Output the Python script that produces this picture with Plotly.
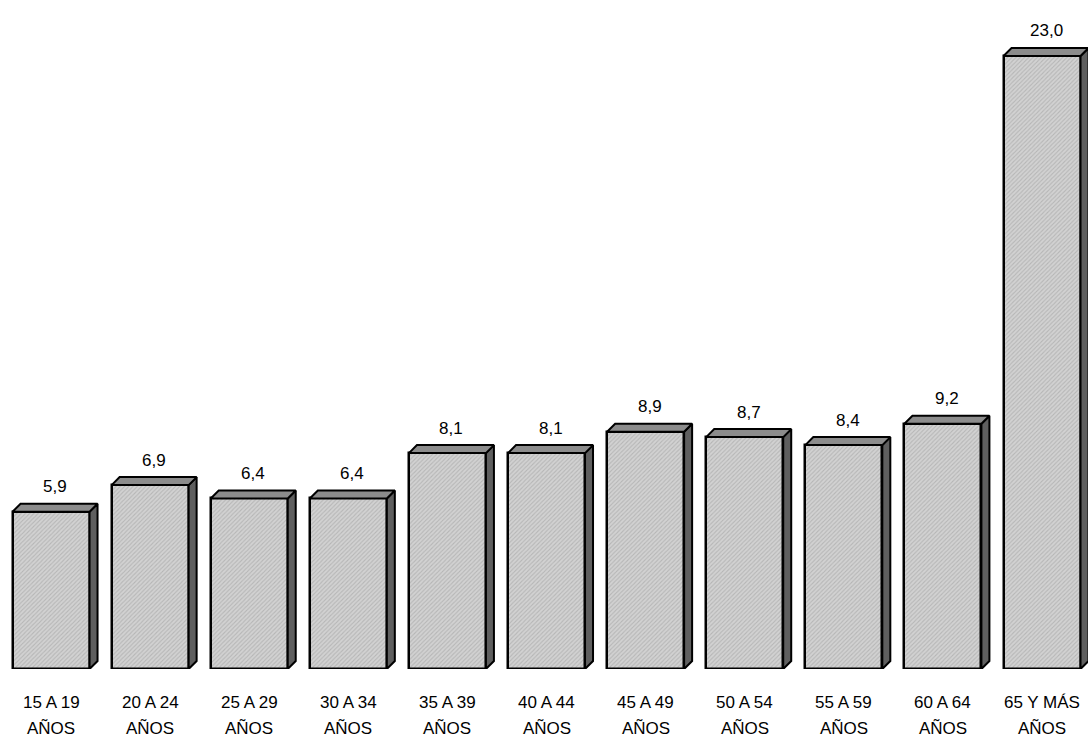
import plotly.graph_objects as go

# Age groups and their values
age_groups = ["15 A 19", "20 A 24", "25 A 29", "30 A 34", "35 A 39", "40 A 44",
              "45 A 49", "50 A 54", "55 A 59", "60 A 64", "65 Y MÁS"]
second_line = "AÑOS"
values = [5.9, 6.9, 6.4, 6.4, 8.1, 8.1, 8.9, 8.7, 8.4, 9.2, 23.0]

W, H = 1088, 740
X_RANGE = [-0.515, 10.464]
Y_RANGE = [0, 25.10]
MARGIN_B = 71

px_per_x = W / (X_RANGE[1] - X_RANGE[0])
px_per_y = (H - MARGIN_B) / (Y_RANGE[1] - Y_RANGE[0])

bar_w = 0.777
depth_px = 8
dx = depth_px / px_per_x
dy = depth_px / px_per_y

FONT = "Liberation Sans Narrow, Arial Narrow, Liberation Sans, Arial, sans-serif"

xs = list(range(len(age_groups)))
fig = go.Figure()

# Right side and top faces giving the bars their depth
for i, v in zip(xs, values):
    x0, x1 = i - bar_w / 2, i + bar_w / 2
    fig.add_trace(go.Scatter(
        x=[x1, x1 + dx, x1 + dx, x1, x1],
        y=[0, dy, v + dy, v, 0],
        mode="lines", fill="toself", fillcolor="#5f5f5f",
        line=dict(color="black", width=2), hoverinfo="skip", showlegend=False))
    fig.add_trace(go.Scatter(
        x=[x0, x0 + dx, x1 + dx, x1, x0],
        y=[v, v + dy, v + dy, v, v],
        mode="lines", fill="toself", fillcolor="#8c8c8c",
        line=dict(color="black", width=2), hoverinfo="skip", showlegend=False))

# Front faces
fig.add_trace(go.Bar(
    x=xs, y=values, width=bar_w,
    marker=dict(color="#cfcfcf",
                pattern=dict(shape="/", fgcolor="#9a9a9a", bgcolor="#d2d2d2",
                             size=3, solidity=0.35),
                line=dict(color="black", width=2.5)),
    hoverinfo="skip", showlegend=False))

annotations = []
for i, v in zip(xs, values):
    annotations.append(dict(
        x=i + dx / 2, y=v, yshift=25, text=f"{v:.1f}".replace(".", ","),
        showarrow=False, xanchor="center", yanchor="middle",
        font=dict(family=FONT, size=17, color="black")))
    annotations.append(dict(
        x=i, y=0, yshift=-33, text=age_groups[i], showarrow=False,
        xanchor="center", yanchor="middle",
        font=dict(family=FONT, size=17, color="black")))
    annotations.append(dict(
        x=i, y=0, yshift=-59, text=second_line, showarrow=False,
        xanchor="center", yanchor="middle",
        font=dict(family=FONT, size=17, color="black")))

fig.update_layout(
    width=W, height=H,
    margin=dict(l=0, r=0, t=0, b=MARGIN_B),
    paper_bgcolor="white", plot_bgcolor="white",
    xaxis=dict(range=X_RANGE, visible=False, fixedrange=True),
    yaxis=dict(range=Y_RANGE, visible=False, fixedrange=True),
    annotations=annotations,
    bargap=0,
)

fig.write_html("out.html")
